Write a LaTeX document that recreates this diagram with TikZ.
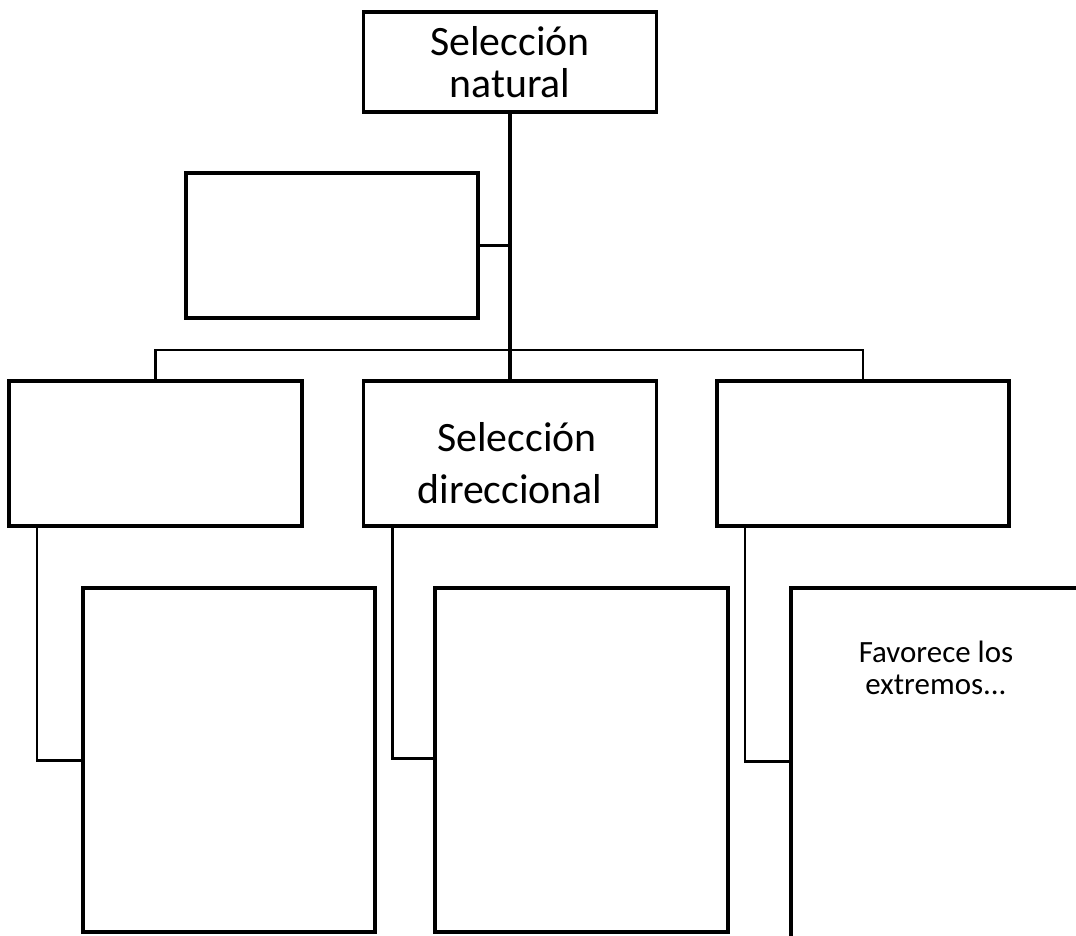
\documentclass[tikz,border=0pt]{standalone}
\usepackage{fontspec}
\setmainfont{Carlito}
\usetikzlibrary{positioning, calc}

\begin{document}
\begin{tikzpicture}[
  x=0.02cm, y=-0.02cm,
  box/.style={draw=black, line width=2pt, fill=white, inner sep=0pt,
              minimum width=5.86cm, minimum height=2.9cm},
  tall/.style={box, minimum height=6.88cm},
  bigtxt/.style={font=\fontsize{23.8}{23.8}\selectfont, align=center, inner sep=0pt},
  smalltxt/.style={font=\fontsize{17.6}{18.2}\selectfont, align=center, inner sep=0pt},
  link/.style={draw=black, line width=1.4pt},
  trunk/.style={draw=black, line width=1.8pt}
]
  \useasboundingbox (0,0) rectangle (1076,936);
  \clip (0,0) rectangle (1076,936);

  \node[box, bigtxt, minimum height=2cm] (sel) at (510, 62) {Selección\\natural};
  \node[box, minimum width=5.84cm] (aux) at (332, 245.5) {};

  \node[box] (t1) at (155.5, 453.5) {};
  \node[box] (t2) at (510,   453.5) {};
  \node[box, minimum width=5.84cm] (t3) at (863, 453.5) {};

  \node[tall, minimum width=5.84cm] (b1) at (229,   760) {};
  \node[tall] (b2) at (581.5, 760) {};
  \node[tall, minimum width=6.58cm, minimum height=7.84cm] (b3) at (955.5, 784) {};

  \node[bigtxt, font=\fontsize{23.8}{30}\selectfont] (t2txt) at (510, 463)
    {\hspace*{0.28cm}Selección\\direccional};
  \node[smalltxt] (b3txt) at (936, 668) {Favorece los\\extremos...};

  \coordinate (bus) at (510, 350);
  \draw[trunk] (sel.south) -- (t2.north);
  \draw[link] (aux.east) -- (aux.east -| sel.south);
  \draw[link] (t1.north) |- (bus) -| (t3.north);

  \draw[link] ($(t1.south west)+(29.5,0)$) |- ($(b1.north west)+(0,174)$);
  \draw[link] ($(t2.south west)+(30.5,0)$) |- ($(b2.north west)+(0,172)$);
  \draw[link] ($(t3.south west)+(29.5,0)$) |- ($(b3.north west)+(0,175)$);
\end{tikzpicture}
\end{document}
